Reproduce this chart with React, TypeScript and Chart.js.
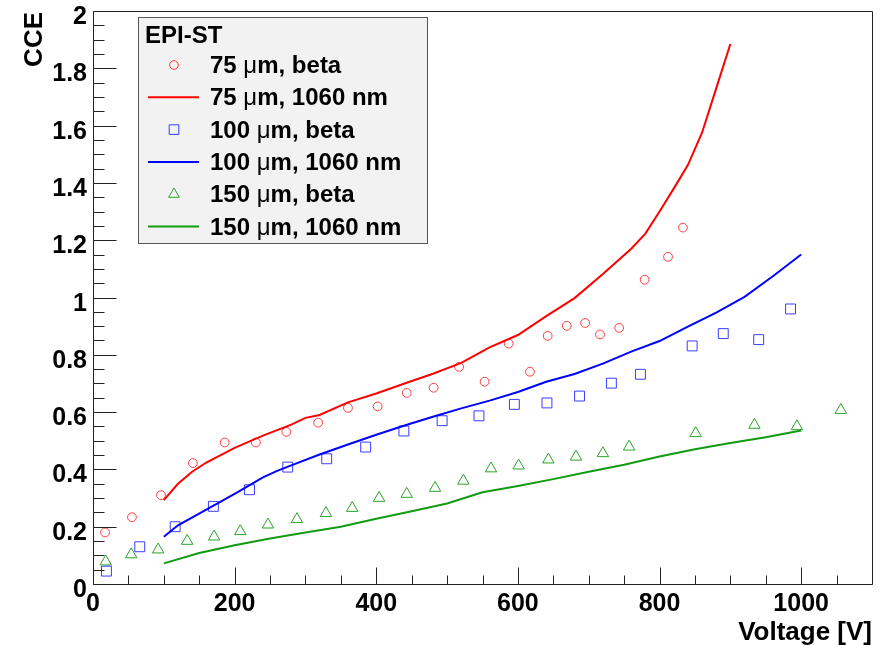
import React, { useEffect, useRef } from 'react';
import { Chart, registerables } from 'chart.js';

Chart.register(...registerables);

const FONT = '"Liberation Sans", Arial, Helvetica, sans-serif';

// ---- axis ticks ----
const xMajorTicks = [0, 200, 400, 600, 800, 1000];
const xTickLabels = ['0', '200', '400', '600', '800', '1000'];
const yMajorTicks = [0, 0.2, 0.4, 0.6, 0.8, 1, 1.2, 1.4, 1.6, 1.8, 2];
const yTickLabels = ['0', '0.2', '0.4', '0.6', '0.8', '1', '1.2', '1.4', '1.6', '1.8', '2'];
const xMinorStep = 50;
const yMinorStep = 0.05;
const xMin = 0;
const xMax = 1100;
const yMin = 0;
const yMax = 2;

// ---- 75 um, beta ----
const beta75V = [17, 55, 96, 141, 186, 230, 273, 318, 360, 402, 443, 481, 517, 553, 587, 617, 642, 669, 695, 716, 743, 779, 812, 833];
const beta75CCE = [0.18, 0.233, 0.31, 0.422, 0.494, 0.494, 0.531, 0.563, 0.615, 0.62, 0.667, 0.685, 0.758, 0.706, 0.839, 0.741, 0.866, 0.901, 0.911, 0.871, 0.894, 1.062, 1.142, 1.244];

// ---- 75 um, 1060 nm ----
const laser75V = [100, 120, 140, 160, 200, 240, 280, 300, 320, 360, 400, 440, 480, 520, 560, 600, 640, 680, 720, 760, 780, 800, 820, 840, 860, 880, 900];
const laser75CCE = [0.293, 0.35, 0.392, 0.424, 0.475, 0.518, 0.556, 0.58, 0.59, 0.634, 0.665, 0.7, 0.734, 0.772, 0.826, 0.869, 0.935, 0.998, 1.082, 1.17, 1.223, 1.3, 1.38, 1.462, 1.575, 1.73, 1.885];

// ---- 100 um, beta ----
const beta100V = [19, 66, 116, 170, 221, 275, 330, 385, 439, 493, 545, 595, 641, 687, 732, 773, 846, 890, 940, 985];
const beta100CCE = [0.045, 0.13, 0.2, 0.271, 0.329, 0.408, 0.437, 0.478, 0.534, 0.57, 0.587, 0.627, 0.632, 0.656, 0.701, 0.732, 0.831, 0.874, 0.853, 0.96];

// ---- 100 um, 1060 nm ----
const laser100V = [100, 120, 160, 200, 240, 260, 280, 320, 360, 400, 440, 480, 520, 560, 600, 640, 680, 720, 760, 800, 840, 880, 920, 960, 1000];
const laser100CCE = [0.165, 0.205, 0.26, 0.315, 0.372, 0.395, 0.414, 0.452, 0.487, 0.521, 0.553, 0.584, 0.613, 0.64, 0.67, 0.706, 0.733, 0.769, 0.811, 0.848, 0.898, 0.947, 1.002, 1.074, 1.15];

// ---- 150 um, beta ----
const beta150V = [18, 54, 92, 133, 171, 208, 247, 288, 329, 366, 404, 443, 483, 523, 562, 601, 643, 682, 720, 757, 851, 934, 994, 1056];
const beta150CCE = [0.078, 0.103, 0.12, 0.15, 0.165, 0.184, 0.207, 0.226, 0.247, 0.265, 0.3, 0.314, 0.335, 0.36, 0.403, 0.413, 0.434, 0.444, 0.456, 0.479, 0.526, 0.555, 0.55, 0.607];

// ---- 150 um, 1060 nm ----
const laser150V = [100, 150, 200, 250, 300, 350, 400, 450, 500, 550, 600, 650, 700, 750, 800, 850, 900, 950, 1000];
const laser150CCE = [0.072, 0.108, 0.135, 0.159, 0.18, 0.2, 0.228, 0.254, 0.281, 0.32, 0.342, 0.366, 0.392, 0.416, 0.445, 0.47, 0.492, 0.512, 0.536];

const legendTitle = 'EPI-ST';
const legendEntries = [
  { pre: '75 ', post: 'm, beta', kind: 'circle', color: '#ff3c3c' },
  { pre: '75 ', post: 'm, 1060 nm', kind: 'line', color: '#ff0000' },
  { pre: '100 ', post: 'm, beta', kind: 'rect', color: '#3c3cff' },
  { pre: '100 ', post: 'm, 1060 nm', kind: 'line', color: '#0000ff' },
  { pre: '150 ', post: 'm, beta', kind: 'triangle', color: '#2aa52a' },
  { pre: '150 ', post: 'm, 1060 nm', kind: 'line', color: '#129a12' },
];

const toXY = (xs: number[], ys: number[]) => xs.map((x, i) => ({ x, y: ys[i] }));

function drawMarker(ctx: CanvasRenderingContext2D, kind: string, x: number, y: number, color: string) {
  ctx.save();
  ctx.strokeStyle = color;
  ctx.lineWidth = 1;
  ctx.beginPath();
  if (kind === 'circle') {
    ctx.arc(x, y, 4.3, 0, Math.PI * 2);
  } else if (kind === 'rect') {
    ctx.rect(x - 4.8, y - 4.8, 9.6, 9.6);
  } else if (kind === 'triangle') {
    const r = 6.2;
    ctx.moveTo(x, y - r);
    ctx.lineTo(x + r * 0.866, y + r * 0.5);
    ctx.lineTo(x - r * 0.866, y + r * 0.5);
    ctx.closePath();
  }
  ctx.stroke();
  ctx.restore();
}

const rootStylePlugin = {
  id: 'rootStyle',
  afterDraw(chart: any) {
    const ctx: CanvasRenderingContext2D = chart.ctx;
    const { left, right, top, bottom } = chart.chartArea;
    const xs = chart.scales.x;
    const ys = chart.scales.y;
    ctx.save();

    // frame
    ctx.strokeStyle = '#222';
    ctx.lineWidth = 1;
    const L = Math.round(left) + 0.5;
    const R = Math.round(right) + 0.5;
    const T = Math.round(top) + 0.5;
    const B = Math.round(bottom) + 0.5;
    ctx.beginPath();
    ctx.moveTo(L, T);
    ctx.lineTo(R, T);
    ctx.lineTo(R, B);
    ctx.lineTo(L, B);
    ctx.closePath();
    ctx.stroke();

    // x ticks (inside)
    ctx.beginPath();
    for (let v = xMin; v <= xMax + 1e-6; v += xMinorStep) {
      const px = Math.round(xs.getPixelForValue(v)) + 0.5;
      const major = xMajorTicks.some((m) => Math.abs(m - v) < 1e-6);
      const len = major ? 17 : 9;
      ctx.moveTo(px, B);
      ctx.lineTo(px, B - len);
    }
    // y ticks (inside)
    for (let i = 0; i <= Math.round((yMax - yMin) / yMinorStep); i++) {
      const v = yMin + i * yMinorStep;
      const py = Math.round(ys.getPixelForValue(v)) + 0.5;
      const major = yMajorTicks.some((m) => Math.abs(m - v) < 1e-6);
      const len = major ? 23 : 11;
      ctx.moveTo(L, py);
      ctx.lineTo(L + len, py);
    }
    ctx.stroke();

    // tick labels
    ctx.fillStyle = '#000';
    ctx.font = `bold 25px ${FONT}`;
    ctx.textBaseline = 'alphabetic';
    ctx.textAlign = 'center';
    xMajorTicks.forEach((v, i) => {
      ctx.fillText(xTickLabels[i], xs.getPixelForValue(v), bottom + 27);
    });
    ctx.textAlign = 'right';
    yMajorTicks.forEach((v, i) => {
      ctx.fillText(yTickLabels[i], left - 6, ys.getPixelForValue(v) + 13);
    });

    // axis titles
    ctx.font = `bold 26px ${FONT}`;
    ctx.textAlign = 'right';
    ctx.fillText('Voltage [V]', right, bottom + 56);
    ctx.save();
    ctx.translate(42, top + 1);
    ctx.rotate(-Math.PI / 2);
    ctx.textAlign = 'right';
    ctx.fillText('CCE', 0, 0);
    ctx.restore();

    // legend
    const bx = 138.5, by = 17.5, bw = 289, bh = 226;
    ctx.fillStyle = '#f2f2f2';
    ctx.fillRect(bx, by, bw, bh);
    ctx.strokeStyle = '#555';
    ctx.lineWidth = 1;
    ctx.strokeRect(bx, by, bw, bh);

    ctx.fillStyle = '#000';
    ctx.textAlign = 'left';
    ctx.font = `bold 24px ${FONT}`;
    ctx.fillText(legendTitle, 145, 43);

    legendEntries.forEach((e, i) => {
      const cy = 65 + i * 32.3;
      if (e.kind === 'line') {
        ctx.save();
        ctx.strokeStyle = e.color;
        ctx.lineWidth = 2;
        ctx.beginPath();
        ctx.moveTo(148, cy);
        ctx.lineTo(199, cy);
        ctx.stroke();
        ctx.restore();
      } else {
        drawMarker(ctx, e.kind, 174, cy, e.color);
      }
      let tx = 210;
      const base = cy + 8;
      ctx.fillStyle = '#000';
      ctx.font = `bold 24px ${FONT}`;
      ctx.fillText(e.pre, tx, base);
      tx += ctx.measureText(e.pre).width;
      ctx.font = `24px ${FONT}`;
      ctx.fillText('\u03bc', tx, base);
      tx += ctx.measureText('\u03bc').width;
      ctx.font = `bold 24px ${FONT}`;
      ctx.fillText(e.post, tx, base);
    });

    ctx.restore();
  },
};

export default function App() {
  const canvasRef = useRef<HTMLCanvasElement | null>(null);

  useEffect(() => {
    const canvas = canvasRef.current;
    if (!canvas) return;
    const chart = new Chart(canvas, {
      type: 'scatter',
      data: {
        datasets: [
          {
            label: '75 um, 1060 nm',
            data: toXY(laser75V, laser75CCE),
            showLine: true,
            borderColor: '#ff0000',
            borderWidth: 2,
            pointRadius: 0,
            tension: 0,
          },
          {
            label: '100 um, 1060 nm',
            data: toXY(laser100V, laser100CCE),
            showLine: true,
            borderColor: '#0000ff',
            borderWidth: 2,
            pointRadius: 0,
            tension: 0,
          },
          {
            label: '150 um, 1060 nm',
            data: toXY(laser150V, laser150CCE),
            showLine: true,
            borderColor: '#129a12',
            borderWidth: 2,
            pointRadius: 0,
            tension: 0,
          },
          {
            label: '75 um, beta',
            data: toXY(beta75V, beta75CCE),
            showLine: false,
            pointStyle: 'circle',
            pointRadius: 4.4,
            pointBorderWidth: 1,
            pointBorderColor: '#ff3c3c',
            pointBackgroundColor: 'rgba(0,0,0,0)',
          },
          {
            label: '100 um, beta',
            data: toXY(beta100V, beta100CCE),
            showLine: false,
            pointStyle: 'rect',
            pointRadius: 7,
            pointBorderWidth: 1,
            pointBorderColor: '#3c3cff',
            pointBackgroundColor: 'rgba(0,0,0,0)',
          },
          {
            label: '150 um, beta',
            data: toXY(beta150V, beta150CCE),
            showLine: false,
            pointStyle: 'triangle',
            pointRadius: 6.6,
            pointBorderWidth: 1,
            pointBorderColor: '#2aa52a',
            pointBackgroundColor: 'rgba(0,0,0,0)',
          },
        ],
      },
      options: {
        animation: false,
        responsive: false,
        maintainAspectRatio: false,
        layout: { padding: { left: 93, top: 11, right: 15, bottom: 61 } },
        scales: {
          x: { type: 'linear', min: xMin, max: xMax, display: false },
          y: { type: 'linear', min: yMin, max: yMax, display: false },
        },
        plugins: {
          legend: { display: false },
          tooltip: { enabled: false },
        },
        events: [],
      },
      plugins: [rootStylePlugin],
    });
    return () => chart.destroy();
  }, []);

  return (
    <div style={{ position: 'absolute', left: 0, top: 0, width: 887, height: 645, background: '#fff' }}>
      <canvas ref={canvasRef} width={887} height={645} style={{ display: 'block', width: 887, height: 645 }} />
    </div>
  );
}
